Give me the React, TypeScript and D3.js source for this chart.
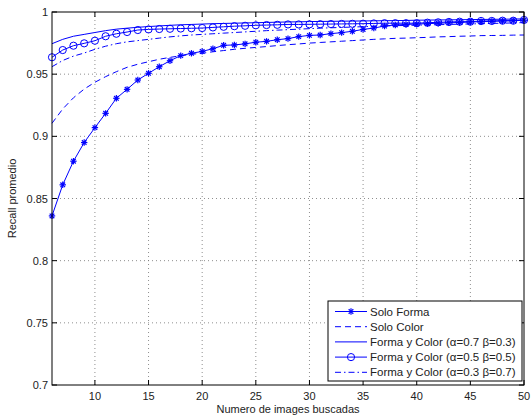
import React from "react";
import * as d3 from "d3";

const xValues = d3.range(6, 51);
const soloForma = [0.836,0.861,0.880,0.895,0.907,0.9185,0.9306,0.9378,0.9453,0.9507,0.956,0.9608,0.9649,0.9668,0.9683,0.9705,0.9732,0.9735,0.9744,0.9757,0.9764,0.9777,0.9786,0.9802,0.9812,0.9815,0.9826,0.9834,0.9845,0.986,0.9871,0.9887,0.9896,0.990,0.9903,0.9906,0.991,0.9913,0.9916,0.992,0.9922,0.9925,0.9928,0.993,0.9934];
const soloColor = [0.9105,0.922,0.931,0.938,0.9435,0.948,0.952,0.9555,0.958,0.960,0.962,0.9635,0.9648,0.966,0.9668,0.968,0.969,0.970,0.9708,0.9715,0.9722,0.973,0.9737,0.9743,0.975,0.9755,0.976,0.9765,0.977,0.9775,0.978,0.9784,0.9788,0.979,0.9793,0.9796,0.98,0.9802,0.9805,0.9807,0.981,0.9811,0.9812,0.9814,0.9815];
const fc73 = [0.9745,0.978,0.9805,0.982,0.9835,0.985,0.9862,0.987,0.9877,0.9883,0.9888,0.9893,0.9897,0.99,0.9903,0.9906,0.9908,0.991,0.9912,0.9914,0.9916,0.9918,0.992,0.9921,0.9923,0.9924,0.9925,0.9926,0.9927,0.9928,0.9929,0.993,0.9931,0.9932,0.9934,0.9935,0.9936,0.9937,0.9938,0.9939,0.994,0.9941,0.9942,0.9943,0.9945];
const fc55 = [0.9636,0.9694,0.9729,0.9748,0.9769,0.9805,0.9825,0.9839,0.9855,0.986,0.9863,0.9865,0.9867,0.9869,0.9871,0.9876,0.9881,0.9886,0.9889,0.9893,0.9895,0.9897,0.99,0.99,0.9901,0.9902,0.9903,0.9904,0.9905,0.9906,0.9908,0.991,0.991,0.991,0.991,0.9914,0.9917,0.992,0.9922,0.9922,0.9928,0.9928,0.993,0.993,0.9936];
const fc37 = [0.956,0.961,0.9645,0.967,0.970,0.9725,0.9745,0.976,0.977,0.978,0.979,0.980,0.9808,0.9815,0.982,0.9825,0.983,0.9835,0.984,0.9845,0.985,0.9854,0.9858,0.9862,0.9866,0.987,0.9873,0.9876,0.9879,0.9882,0.9885,0.9888,0.989,0.9892,0.9894,0.9896,0.9898,0.99,0.9902,0.9904,0.9906,0.9908,0.991,0.9912,0.9915];

const xTicks = [10, 15, 20, 25, 30, 35, 40, 45, 50];
const yTicks = [0.7, 0.75, 0.8, 0.85, 0.9, 0.95, 1];
const yTickLabels = ["0.7", "0.75", "0.8", "0.85", "0.9", "0.95", "1"];
const legendLabels = [
  "Solo Forma",
  "Solo Color",
  "Forma y Color (\u03b1=0.7 \u03b2=0.3)",
  "Forma y Color (\u03b1=0.5 \u03b2=0.5)",
  "Forma y Color (\u03b1=0.3 \u03b2=0.7)",
];

const BLUE = "#0000ff";
const FONT = "Liberation Sans, Arial, Helvetica, sans-serif";

const L = 52, R = 524, T = 12, B = 385;

type Series = { values: number[]; dash?: string; marker?: "star" | "circle" };
const series: Series[] = [
  { values: soloForma, marker: "star" },
  { values: soloColor, dash: "6,4" },
  { values: fc73 },
  { values: fc55, marker: "circle" },
  { values: fc37, dash: "6,3,1.5,3" },
];

function Star({ x, y }: { x: number; y: number }) {
  const s = 3.2, d = 2.3;
  return (
    <g stroke={BLUE} strokeWidth={1.2}>
      <line x1={x - s} y1={y} x2={x + s} y2={y} />
      <line x1={x} y1={y - s} x2={x} y2={y + s} />
      <line x1={x - d} y1={y - d} x2={x + d} y2={y + d} />
      <line x1={x - d} y1={y + d} x2={x + d} y2={y - d} />
    </g>
  );
}

function Circle({ x, y }: { x: number; y: number }) {
  return <circle cx={x} cy={y} r={3.6} fill="none" stroke={BLUE} strokeWidth={1} />;
}

export default function App() {
  const x = d3.scaleLinear().domain([6, 50]).range([L, R]);
  const y = d3.scaleLinear().domain([0.7, 1]).range([B, T]);
  const line = d3.line<number>().x((_, i) => x(xValues[i])).y((d) => y(d));

  const legX = 328, legY = 301, legW = 194, legH = 80;
  const rowY = (i: number) => legY + 10.5 + i * 15.2;

  return (
    <svg width={532} height={418} style={{ position: "absolute", left: 0, top: 0, background: "#fff" }} fontFamily={FONT}>
      <rect x={0} y={0} width={532} height={418} fill="#fff" />
      <g stroke="#000" strokeWidth={0.8} strokeDasharray="1,3" opacity={0.55}>
        {xTicks.filter((t) => t < 50).map((t) => (
          <line key={"gx" + t} x1={x(t)} x2={x(t)} y1={T} y2={B} />
        ))}
        {yTicks.filter((t) => t > 0.7 && t < 1).map((t) => (
          <line key={"gy" + t} x1={L} x2={R} y1={y(t)} y2={y(t)} />
        ))}
      </g>
      {series.map((s, i) => (
        <g key={"s" + i}>
          <path d={line(s.values) || ""} fill="none" stroke={BLUE} strokeWidth={1} strokeDasharray={s.dash} />
          {s.marker === "star" && s.values.map((v, j) => <Star key={j} x={x(xValues[j])} y={y(v)} />)}
          {s.marker === "circle" && s.values.map((v, j) => <Circle key={j} x={x(xValues[j])} y={y(v)} />)}
        </g>
      ))}
      <rect x={L} y={T} width={R - L} height={B - T} fill="none" stroke="#000" strokeWidth={1} />
      <g stroke="#000" strokeWidth={1}>
        {xTicks.map((t) => (
          <g key={"tx" + t}>
            <line x1={x(t)} x2={x(t)} y1={B} y2={B - 5} />
            <line x1={x(t)} x2={x(t)} y1={T} y2={T + 5} />
          </g>
        ))}
        {yTicks.map((t) => (
          <g key={"ty" + t}>
            <line x1={L} x2={L + 5} y1={y(t)} y2={y(t)} />
            <line x1={R} x2={R - 5} y1={y(t)} y2={y(t)} />
          </g>
        ))}
      </g>
      <g fontSize={11} fill="#222">
        {xTicks.map((t) => (
          <text key={"lx" + t} x={x(t)} y={B + 15} textAnchor="middle">{t}</text>
        ))}
        {yTicks.map((t, i) => (
          <text key={"ly" + t} x={L - 4} y={y(t) + 4} textAnchor="end">{yTickLabels[i]}</text>
        ))}
        <text x={(L + R) / 2} y={B + 28} textAnchor="middle">Numero de images buscadas</text>
        <text transform={`translate(${16},${(T + B) / 2}) rotate(-90)`} textAnchor="middle">Recall promedio</text>
      </g>
      <rect x={legX} y={legY} width={legW} height={legH} fill="#fff" stroke="#000" strokeWidth={1} />
      {series.map((s, i) => (
        <g key={"lg" + i}>
          <line x1={legX + 7} x2={legX + 39} y1={rowY(i)} y2={rowY(i)} stroke={BLUE} strokeWidth={1} strokeDasharray={s.dash} />
          {s.marker === "star" && <Star x={legX + 23} y={rowY(i)} />}
          {s.marker === "circle" && <Circle x={legX + 23} y={rowY(i)} />}
          <text x={legX + 42} y={rowY(i) + 4} fontSize={11.5} fill="#222">{legendLabels[i]}</text>
        </g>
      ))}
    </svg>
  );
}
